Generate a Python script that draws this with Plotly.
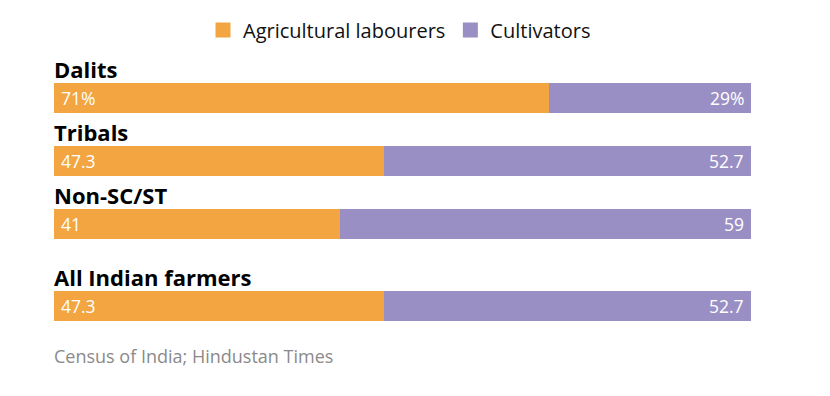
import plotly.graph_objects as go

categories = ["Dalits", "Tribals", "Non-SC/ST", "All Indian farmers"]
labourers = [71, 47.3, 41, 47.3]
cultivators = [29, 52.7, 59, 52.7]
labourer_labels = ["71%", "47.3", "41", "47.3"]
cultivator_labels = ["29%", "52.7", "59", "52.7"]
series_names = ["Agricultural labourers", "Cultivators"]
colors = ["#F2A541", "#9A8FC4"]
source = "Census of India; Hindustan Times"

# row positions: extra gap before the last (total) row
pos = [i + (0.3 if i == len(categories) - 1 else 0) for i in range(len(categories))]
bw = 0.476

W, H = 822, 388  # page body has an 8px margin
L, R = 46, 79
PW = W - L - R

fig = go.Figure()
fig.add_bar(y=pos, x=labourers, orientation="h", name=series_names[0], showlegend=False,
            marker=dict(color=colors[0], line=dict(width=0)), width=bw, hoverinfo="skip")
fig.add_bar(y=pos, x=cultivators, orientation="h", name=series_names[1], showlegend=False,
            marker=dict(color=colors[1], line=dict(width=0)), width=bw, hoverinfo="skip")
for name, col in zip(series_names, colors):
    fig.add_scatter(x=[None], y=[None], mode="markers", name=name,
                    marker=dict(symbol="square", size=15, color=col, line=dict(width=0)))

ann = []
for p, c, lt, ct in zip(pos, categories, labourer_labels, cultivator_labels):
    ann.append(dict(x=0, y=p - bw / 2, xref="x", yref="y", text=f"<b>{c}</b>",
                    showarrow=False, xanchor="left", yanchor="bottom", yshift=-3, xshift=-2,
                    font=dict(size=22, color="#000000")))
    ann.append(dict(x=0, y=p, xref="x", yref="y", text=lt, showarrow=False,
                    xanchor="left", yanchor="middle", xshift=5,
                    font=dict(size=17.5, color="#ffffff")))
    ann.append(dict(x=100, y=p, xref="x", yref="y", text=ct, showarrow=False,
                    xanchor="right", yanchor="middle", xshift=-5,
                    font=dict(size=17.5, color="#ffffff")))
ann.append(dict(x=0, y=1 - 348 / H, xref="paper", yref="paper", text=source,
                showarrow=False, xanchor="left", yanchor="middle", xshift=-2,
                font=dict(size=18, color="#8a8a8a")))

top = -90 / 63
fig.update_layout(
    width=W, height=H,
    margin=dict(l=L, r=R, t=0, b=0),
    barmode="stack",
    bargap=0,
    plot_bgcolor="white", paper_bgcolor="white",
    font=dict(family="Open Sans", size=16),
    xaxis=dict(range=[0, 100], visible=False, fixedrange=True),
    yaxis=dict(range=[top + H / 63, top], visible=False, fixedrange=True),
    legend=dict(orientation="h", x=0.5 - 3 / PW, xanchor="center", y=1 - 22 / H, yanchor="middle",
                font=dict(size=20, color="#111111"), traceorder="normal",
                itemwidth=30, bgcolor="rgba(0,0,0,0)"),
    annotations=ann,
    showlegend=True,
)

fig.write_html("out.html")
